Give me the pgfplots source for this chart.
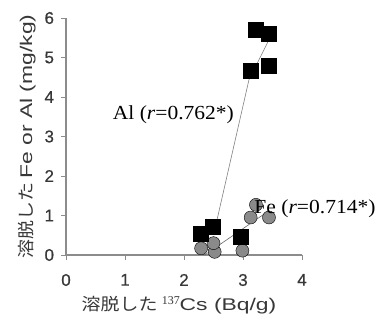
\documentclass[border=0pt]{standalone}
\usepackage{pgfplots}
\pgfplotsset{compat=1.18}
\usepackage{fontspec}
\setmainfont{Liberation Serif}
\newfontfamily\serifwide[FakeStretch=1.08]{Liberation Serif}
\newfontfamily\arialtick[FakeBold=0.6]{Liberation Sans}
\newfontfamily\arialwide[FakeStretch=1.35]{Liberation Sans}
\newfontfamily\cjk[FakeStretch=1.12]{Noto Sans CJK JP}
\definecolor{axgray}{HTML}{8C8C8C}
\definecolor{ticktext}{HTML}{383838}
\definecolor{fegray}{HTML}{8A8A8A}
\begin{document}
\begin{tikzpicture}
\begin{axis}[
  scale only axis, width=236bp, height=237bp,
  xmin=0, xmax=4, ymin=0, ymax=6,
  axis lines=left, axis line style={axgray, line width=1.2pt, -},
  xtick={0,1,2,3,4}, ytick={0,1,2,3,4,5,6},
  tick style={axgray, line width=1pt}, tick align=outside, major tick length=4.5bp,
  ticklabel style={font=\arialtick\fontsize{17}{19}\selectfont, text=ticktext},
  /pgf/number format/assume math mode=true,
  xticklabel style={yshift=-11bp},
  yticklabel style={xshift=-4bp},
  xlabel={{\cjk 溶脱した} {\fontsize{12}{13}\selectfont\raisebox{0.5em}{137}}\arialwide Cs (Bq/g)},
  ylabel={{\cjk 溶脱した} \arialwide Fe or Al (mg/kg)},
  label style={font=\fontsize{17}{19}\selectfont, text=ticktext},
  xlabel style={yshift=-3bp, xshift=-5bp},
  ylabel style={yshift=2bp},
  clip=false,
]
\addplot[gray, line width=0.6pt] coordinates {(2.52,0.63) (3.10,4.43) (3.44,5.45)};
\addplot[gray!80!black, line width=0.6pt] coordinates {(2.35,0.0) (3.44,1.12)};
\addplot[only marks, mark=*, mark size=6.5bp, mark options={fill=fegray, draw=none}] coordinates {
(2.29,0.17) (2.52,0.08) (2.50,0.30) (2.99,0.11) (3.13,0.95) (3.22,1.27) (3.44,0.95)};
\addplot[only marks, mark=square*, mark size=7.5bp, mark options={fill=black, draw=none}] coordinates {
(2.29,0.55) (2.49,0.72) (2.96,0.46) (3.13,4.67) (3.22,5.70) (3.44,5.61) (3.44,4.79)};
\coordinate (allab) at (axis cs:1.82,3.54);
\coordinate (felab) at (axis cs:4.22,1.16);
\end{axis}
\node[font=\serifwide\fontsize{20}{22}\selectfont] at (allab) {Al (\textit{r}=0.762*)};
\node[font=\serifwide\fontsize{20}{22}\selectfont] at (felab) {Fe (\textit{r}=0.714*)};
\pgfresetboundingbox
\path[use as bounding box] (-66bp,-67bp) rectangle (323bp,255bp);
\end{tikzpicture}
\end{document}
